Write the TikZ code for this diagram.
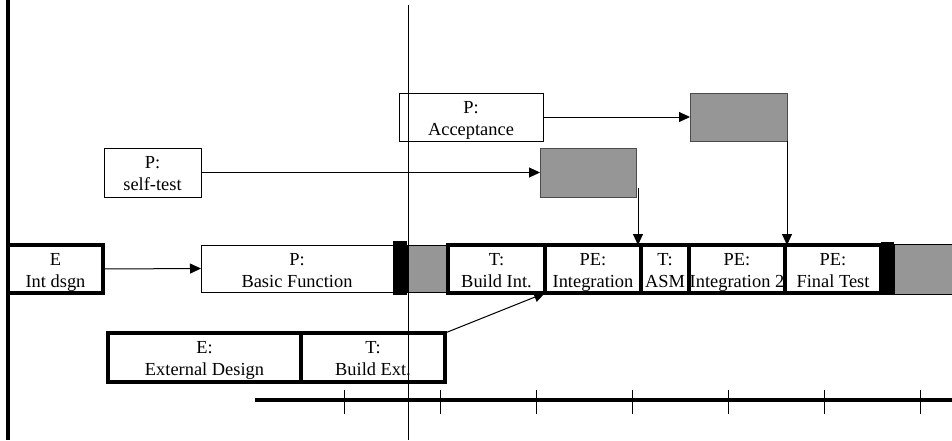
\documentclass[tikz,border=0pt]{standalone}
\usepackage{fontspec}
\setmainfont{Liberation Serif}
\usetikzlibrary{arrows.meta}
\definecolor{boxgray}{RGB}{150,150,150}
\newcommand\boxtext[3]{%
  \node[txt] (#1a) at ([yshift=-20pt]#1.north) {#2};
  \node[txt] (#1b) at ([yshift=-42pt]#1.north) {#3};}
\begin{document}
\begin{tikzpicture}[x=1pt,y=-1pt,
  every node/.style={inner sep=0pt, outer sep=0pt},
  txt/.style={anchor=base, font=\fontsize{18.4}{22}\selectfont},
  thinbox/.style={draw, line width=1pt, fill=white},
  thickbox/.style={draw, line width=3.6pt, fill=white},
  graybox/.style={draw=black!70, line width=1pt, fill=boxgray},
  blackbar/.style={fill=black, draw=none},
  arr/.style={line width=1pt, -{Triangle[length=11pt,width=10pt]}},
  thinline/.style={line width=1pt},
  thickline/.style={line width=3.6pt},
]
\useasboundingbox (0,0) rectangle (952,440);

% timeline
\coordinate (t0) at (255,400);
\coordinate (t1) at (952,400);
\draw[thickline] (t0) -- (t1);
\foreach \x in {344,440,536,632,728,824,920}
  \draw[thinline] (\x,390) -- (\x,414);

% top row
\node[thinbox, minimum width=144pt, minimum height=48pt] (AC) at (471,117) {};
\boxtext{AC}{P:}{Acceptance}
\node[graybox, minimum width=97pt, minimum height=48pt] (G1) at (738.5,117) {};
\node[thinbox, minimum width=97pt, minimum height=49pt] (ST) at (152.5,172.5) {};
\boxtext{ST}{P:}{self-test}
\node[graybox, minimum width=96pt, minimum height=49pt] (G2) at (588,172.5) {};

% main bar
\node[thickbox, minimum width=95pt, minimum height=48pt] (E) at (55.5,269) {};
\boxtext{E}{E}{Int dsgn}
\node[thinbox, minimum width=192pt, minimum height=47pt] (P) at (297,268.5) {};
\boxtext{P}{P:}{Basic Function}
\node[graybox, draw=black, minimum width=41pt, minimum height=47pt] (GM) at (427.5,268.5) {};
\node[blackbar, minimum width=14pt, minimum height=54pt] (B1) at (400,268) {};
\node[thickbox, minimum width=97pt, minimum height=48pt] (BI) at (496.5,269) {};
\boxtext{BI}{T:}{Build Int.}
\node[thickbox, minimum width=96pt, minimum height=48pt] (IN) at (593,269) {};
\boxtext{IN}{PE:}{Integration}
\node[thickbox, minimum width=48pt, minimum height=48pt] (AS) at (665,269) {};
\boxtext{AS}{T:}{ASM}
\node[thickbox, minimum width=96pt, minimum height=48pt] (IN2) at (737,269) {};
\boxtext{IN2}{PE:}{Integration 2}
\node[thickbox, minimum width=96pt, minimum height=48pt] (FT) at (833,269) {};
\boxtext{FT}{PE:}{Final Test}
\node[graybox, draw=black, minimum width=70pt, minimum height=50pt] (GE) at (929,269) {};
\node[blackbar, minimum width=13pt, minimum height=53pt] (B2) at (887.5,268.5) {};

% lower row
\node[thickbox, minimum width=193pt, minimum height=49pt] (ED) at (204.5,357.5) {};
\boxtext{ED}{E:}{External Design}
\node[thickbox, minimum width=144pt, minimum height=49pt] (BE) at (373,357.5) {};
\boxtext{BE}{T:}{Build Ext.}

% connectors
\draw[arr] (E.east) -- (P.west);
\draw[arr] (ST.east) -- (G2.west);
\draw[arr] (AC.east) -- (G1.west);
\draw[arr] (G1.south east) -- (G1.south east |- FT.north west);
\coordinate (g2d) at (638,188);
\draw[arr] (g2d) -- (g2d |- IN.north east);
\draw[arr] (BE.north east) -- (IN.south west);

% vertical lines
\coordinate (l0) at (8,0);
\coordinate (l1) at (8,440);
\draw[thickline] (l0) -- (l1);
\coordinate (m0) at (408,5);
\coordinate (m1) at (408,440);
\draw[thinline] (m0) -- (m1);
\end{tikzpicture}
\end{document}
